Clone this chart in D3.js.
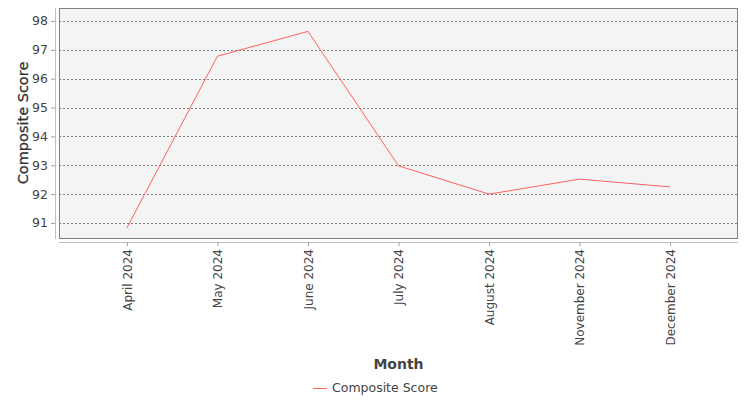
<!DOCTYPE html>
<html>
<head>
<meta charset="utf-8">
<script src="https://cdn.jsdelivr.net/npm/d3@7"></script>
<style>
  body { margin: 0; background: #fff; }
  text { font-family: "DejaVu Sans", sans-serif; }
</style>
</head>
<body>
<svg id="chart" width="750" height="400"></svg>
<script>
// chart data
const months = ["April 2024", "May 2024", "June 2024", "July 2024", "August 2024", "November 2024", "December 2024"];
const scores = [90.83, 96.78, 97.64, 92.98, 92.0, 92.52, 92.25];
const yTicks = [91, 92, 93, 94, 95, 96, 97, 98];
const seriesName = "Composite Score";

const svg = d3.select("#chart");

const plot = { left: 59, right: 738, top: 8, bottom: 238 };

const x = d3.scalePoint()
  .domain(months)
  .range([plot.left, plot.right])
  .padding(0.75);

const y = d3.scaleLinear()
  .domain([90.48, 98.45])
  .range([plot.bottom, plot.top]);

// plot background
svg.append("rect")
  .attr("x", plot.left)
  .attr("y", plot.top)
  .attr("width", plot.right - plot.left)
  .attr("height", plot.bottom - plot.top)
  .attr("fill", "#f4f4f4");

// gridlines
svg.append("g")
  .selectAll("line")
  .data(yTicks)
  .join("line")
  .attr("x1", plot.left)
  .attr("x2", plot.right)
  .attr("y1", d => Math.round(y(d)) + 0.5)
  .attr("y2", d => Math.round(y(d)) + 0.5)
  .attr("stroke", "#808080")
  .attr("stroke-width", 1)
  .attr("stroke-dasharray", "2,2");

// plot border
svg.append("rect")
  .attr("x", plot.left + 0.5)
  .attr("y", plot.top + 0.5)
  .attr("width", plot.right - plot.left - 1)
  .attr("height", plot.bottom - plot.top)
  .attr("fill", "none")
  .attr("stroke", "#808080");

// y axis
const yAxis = svg.append("g")
  .attr("transform", `translate(${plot.left - 4},0)`)
  .call(d3.axisLeft(y).tickValues(yTicks).tickSize(4).tickPadding(3).tickFormat(d3.format("d")));
yAxis.select(".domain").attr("stroke", "#c0c0c0").attr("d", `M0.5,${plot.top}V${plot.bottom + 1}`);
yAxis.selectAll(".tick line").attr("stroke", "#a0a0a0");
yAxis.selectAll(".tick text")
  .attr("fill", "#444")
  .style("font-size", "12.5px");

// x axis
const xAxis = svg.append("g")
  .attr("transform", `translate(0,${plot.bottom + 4})`)
  .call(d3.axisBottom(x).tickSize(4).tickPadding(3));
xAxis.select(".domain").attr("stroke", "#c0c0c0").attr("d", `M${plot.left},0.5H${plot.right}`);
xAxis.selectAll(".tick line").attr("stroke", "#a0a0a0");
xAxis.selectAll(".tick text")
  .attr("fill", "#444")
  .style("font-size", "12px")
  .attr("transform", "rotate(-90)")
  .attr("text-anchor", "end")
  .attr("x", -7)
  .attr("y", 0)
  .attr("dy", "0.35em");

// series line
const line = d3.line()
  .x((d, i) => x(months[i]))
  .y(d => y(d));

svg.append("path")
  .datum(scores)
  .attr("d", line)
  .attr("fill", "none")
  .attr("stroke", "#ff6060")
  .attr("stroke-width", 1);

// axis titles
svg.append("text")
  .attr("transform", `translate(28,${(plot.top + plot.bottom) / 2}) rotate(-90)`)
  .attr("text-anchor", "middle")
  .attr("fill", "#333")
  .style("font-size", "14.5px")
  .style("stroke", "#333")
  .style("stroke-width", "0.3px")
  .text("Composite Score");

svg.append("text")
  .attr("x", (plot.left + plot.right) / 2)
  .attr("y", 369)
  .attr("text-anchor", "middle")
  .attr("fill", "#444")
  .style("font-size", "14px")
  .style("font-weight", "bold")
  .text("Month");

// legend
const legend = svg.append("g").attr("transform", "translate(313,388)");
legend.append("line")
  .attr("x1", 0).attr("x2", 14)
  .attr("y1", 0.5).attr("y2", 0.5)
  .attr("stroke", "#ff6060");
legend.append("text")
  .attr("x", 19)
  .attr("y", 0)
  .attr("dy", "0.35em")
  .attr("fill", "#444")
  .style("font-size", "12.5px")
  .text(seriesName);
</script>
</body>
</html>
